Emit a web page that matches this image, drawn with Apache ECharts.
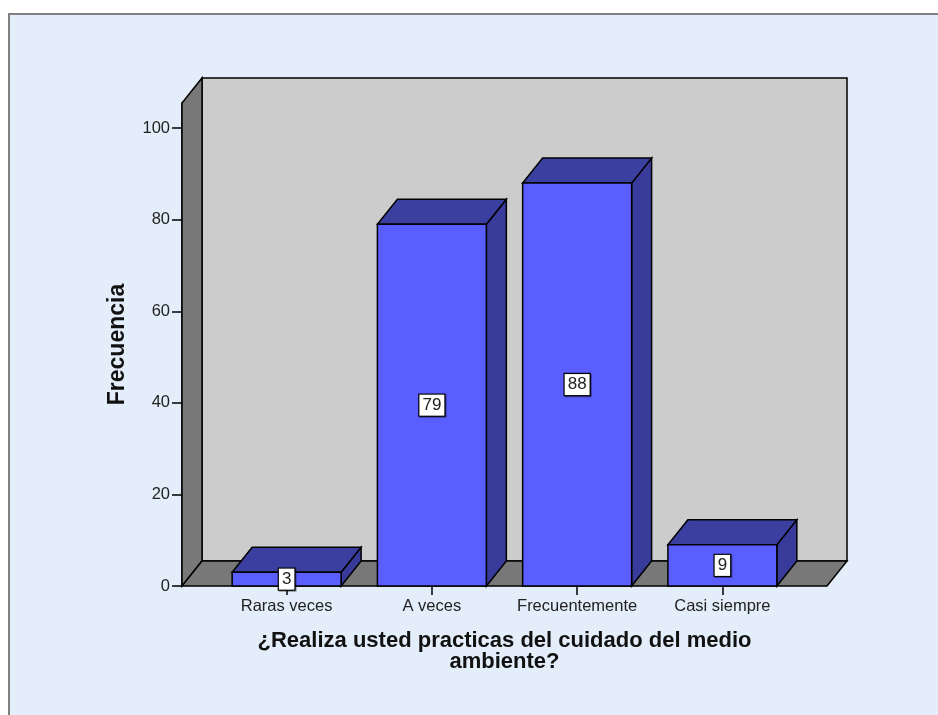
<!DOCTYPE html>
<html>
<head>
<meta charset="utf-8">
<script src="https://cdn.jsdelivr.net/npm/echarts@6/dist/echarts.min.js"></script>
<style>
  html, body { margin: 0; padding: 0; background: #fff; }
  #chart { width: 938px; height: 715px; }
</style>
</head>
<body>
<div id="chart"></div>
<script>
// datos
const categories = ['Raras veces', 'A veces', 'Frecuentemente', 'Casi siempre'];
const frecuencias = [3, 79, 88, 9];
const yTicks = [0, 20, 40, 60, 80, 100];

const DX = 20, DY = -25;   // profundidad 3D
const PAD = 32;            // margen entre paredes y categorias
const FONT = 'Liberation Sans, Arial, sans-serif';

const myChart = echarts.init(document.getElementById('chart'));

// paredes y piso
function renderWalls(params, api) {
  const cs = params.coordSys;
  const x0 = cs.x - PAD, x1 = cs.x + cs.width + PAD;
  const yT = cs.y, yB = cs.y + cs.height;
  const st = { stroke: '#000', lineWidth: 1.5 };
  return {
    type: 'group',
    children: [
      { type: 'polygon', shape: { points: [[x0 + DX, yT + DY], [x1 + DX, yT + DY], [x1 + DX, yB + DY], [x0 + DX, yB + DY]] },
        style: Object.assign({ fill: '#cccccc' }, st) },
      { type: 'polygon', shape: { points: [[x0, yB], [x0, yT], [x0 + DX, yT + DY], [x0 + DX, yB + DY]] },
        style: Object.assign({ fill: '#787878' }, st) },
      { type: 'polygon', shape: { points: [[x0, yB], [x1, yB], [x1 + DX, yB + DY], [x0 + DX, yB + DY]] },
        style: Object.assign({ fill: '#787878' }, st) }
    ]
  };
}

// barras 3D
function renderBar(params, api) {
  const v = api.value(1);
  const top = api.coord([api.value(0), v]);
  const base = api.coord([api.value(0), 0]);
  const mid = api.coord([api.value(0), v / 2]);
  const w = api.size([1, 0])[0] * 0.75;
  const l = top[0] - w / 2, r = top[0] + w / 2;
  const yt = top[1], yb = base[1];
  const st = { stroke: '#000', lineWidth: 1.5 };
  return {
    type: 'group',
    children: [
      { type: 'polygon', shape: { points: [[r, yb], [r, yt], [r + DX, yt + DY], [r + DX, yb + DY]] },
        style: Object.assign({ fill: '#383b99' }, st) },
      { type: 'polygon', shape: { points: [[l, yt], [r, yt], [r + DX, yt + DY], [l + DX, yt + DY]] },
        style: Object.assign({ fill: '#3b3fa0' }, st) },
      { type: 'rect', shape: { x: l, y: yt, width: r - l, height: yb - yt },
        style: Object.assign({ fill: '#5a5eff' }, st) },
      { type: 'text', x: mid[0], y: mid[1],
        style: { text: String(v), align: 'center', verticalAlign: 'middle',
          fontFamily: FONT, fontSize: 17, fill: '#222',
          backgroundColor: '#fff', borderColor: '#000', borderWidth: 1.2, padding: [2, 3],
          shadowColor: 'rgba(0,0,0,0.4)', shadowOffsetX: 1, shadowOffsetY: 1 } }
    ]
  };
}

const option = {
  backgroundColor: '#fff',
  animation: false,
  graphic: [{
    type: 'rect', left: 8, top: 13, z: -10,
    shape: { width: 940, height: 710 },
    style: { fill: '#e3eefa', stroke: '#808080', lineWidth: 2 }
  }],
  grid: { left: 214, right: 143, top: 103, bottom: 129 },
  xAxis: {
    type: 'category',
    data: categories,
    name: '¿Realiza usted practicas del cuidado del medio\nambiente?',
    nameLocation: 'middle',
    nameGap: 44,
    nameTextStyle: { fontFamily: FONT, fontSize: 22, fontWeight: 'bold', color: '#111', lineHeight: 21, align: 'center' },
    axisLine: { show: false },
    axisTick: { show: true, alignWithLabel: true, interval: 0, length: 9, lineStyle: { color: '#000', width: 1.5 } },
    axisLabel: { fontFamily: FONT, fontSize: 16.5, color: '#222', margin: 12, interval: 0 }
  },
  yAxis: {
    type: 'value',
    min: 0,
    max: 105.5,
    interval: 20,
    offset: PAD,
    name: 'Frecuencia',
    nameLocation: 'middle',
    nameGap: 53,
    nameTextStyle: { fontFamily: FONT, fontSize: 23, fontWeight: 'bold', color: '#111' },
    splitLine: { show: false },
    axisLine: { show: true, lineStyle: { color: '#000', width: 1.5 } },
    axisTick: { show: true, length: 10, customValues: yTicks, lineStyle: { color: '#000', width: 1.5 } },
    axisLabel: { fontFamily: FONT, fontSize: 16.5, color: '#222', margin: 12, customValues: yTicks }
  },
  series: [
    {
      type: 'custom',
      z: 1,
      clip: false,
      silent: true,
      renderItem: renderWalls,
      data: [[0, 0]]
    },
    {
      type: 'custom',
      z: 2,
      clip: false,
      renderItem: renderBar,
      data: categories.map((c, i) => [i, frecuencias[i]])
    }
  ]
};

myChart.setOption(option);
window.addEventListener('resize', function () {
  myChart.resize();
});
</script>
</body>
</html>
